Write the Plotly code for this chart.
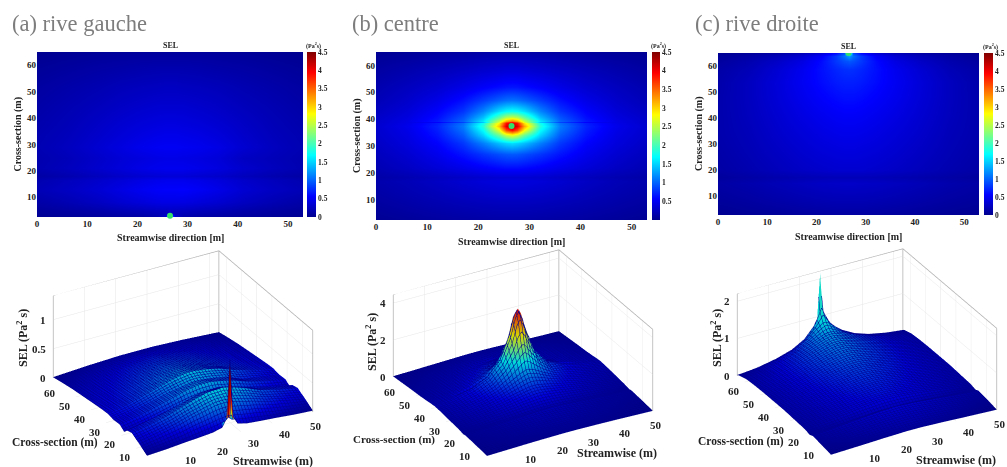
import numpy as np
import plotly.graph_objects as go

W, H = 1007, 467
X = [0, 6, 12, 17, 21, 24, 25.5, 26.5, 27.5, 29, 32, 36, 41, 47, 53]

Y_A = [3, 4, 4.6, 8, 13, 16.5, 18, 21, 25, 29, 33, 38, 45, 52, 59, 65]
Z_A = [
 [.03,.05,.08,.10,.12,.16,.30,1.30,.30,.16,.12,.10,.08,.05,.03],
 [.05,.08,.11,.15,.18,.21,.23,.28,.23,.21,.18,.15,.11,.08,.05],
 [.06,.09,.13,.18,.21,.24,.25,.26,.25,.24,.21,.18,.13,.09,.06],
 [.12,.18,.25,.33,.38,.42,.43,.43,.43,.42,.38,.33,.25,.18,.12],
 [.20,.26,.34,.43,.50,.54,.55,.55,.55,.56,.52,.45,.34,.26,.20],
 [.17,.23,.30,.37,.43,.47,.48,.48,.48,.48,.45,.39,.30,.23,.17],
 [.11,.16,.23,.29,.33,.35,.36,.36,.36,.36,.33,.30,.23,.16,.11],
 [.17,.23,.31,.38,.44,.47,.48,.48,.48,.48,.45,.40,.31,.23,.17],
 [.16,.21,.29,.36,.40,.43,.44,.44,.44,.43,.41,.37,.26,.21,.16],
 [.18,.24,.33,.41,.47,.50,.51,.51,.51,.50,.48,.43,.33,.24,.18],
 [.17,.22,.30,.37,.42,.45,.46,.46,.46,.45,.43,.38,.30,.22,.17],
 [.15,.20,.27,.33,.37,.39,.40,.40,.40,.39,.37,.33,.27,.20,.15],
 [.12,.17,.22,.27,.30,.32,.32,.32,.32,.32,.30,.27,.22,.17,.12],
 [.09,.13,.17,.21,.23,.24,.25,.25,.25,.24,.23,.21,.17,.13,.09],
 [.05,.08,.11,.13,.15,.16,.16,.16,.16,.16,.15,.13,.11,.08,.05],
 [.01,.03,.05,.06,.07,.07,.07,.07,.07,.07,.07,.06,.05,.03,.01],
]

Y_B = [3, 8, 13, 17, 18.5, 22, 27, 31, 34, 36, 37.5, 38.6, 39, 39.4, 41, 43, 47, 52, 58, 65]
Z_B = [
 [.03,.06,.09,.11,.12,.13,.13,.13,.13,.13,.12,.11,.09,.06,.03],
 [.08,.12,.16,.19,.21,.22,.22,.22,.22,.22,.21,.19,.16,.12,.08],
 [.12,.17,.22,.27,.30,.32,.32,.32,.32,.32,.30,.27,.22,.17,.12],
 [.15,.20,.27,.33,.37,.39,.40,.40,.40,.39,.37,.33,.27,.20,.15],
 [.12,.17,.23,.28,.32,.34,.34,.34,.34,.34,.32,.28,.23,.17,.12],
 [.18,.26,.36,.45,.53,.58,.60,.60,.60,.58,.53,.45,.36,.26,.18],
 [.23,.33,.47,.64,.79,.90,.94,.95,.94,.90,.79,.64,.47,.33,.23],
 [.27,.39,.56,.80,1.12,1.40,1.50,1.55,1.50,1.40,1.12,.80,.56,.39,.27],
 [.30,.42,.64,.96,1.50,2.15,2.55,2.70,2.55,2.15,1.50,.96,.64,.42,.30],
 [.31,.44,.68,1.05,1.70,2.70,3.60,3.90,3.60,2.80,1.70,1.05,.68,.44,.31],
 [.32,.46,.71,1.10,1.85,3.10,4.10,4.40,4.10,3.20,1.85,1.10,.71,.46,.32],
 [.31,.44,.68,1.05,1.75,2.90,3.90,4.15,3.90,2.95,1.75,1.05,.68,.44,.31],
 [.30,.43,.55,.85,1.45,2.70,3.60,3.90,3.60,2.70,1.45,.85,.55,.43,.30],
 [.30,.43,.66,1.00,1.60,2.55,3.20,3.40,3.20,2.55,1.60,1.00,.66,.43,.30],
 [.28,.40,.61,.92,1.40,2.10,2.45,2.55,2.45,2.10,1.40,.92,.61,.40,.28],
 [.25,.36,.55,.79,1.15,1.55,1.68,1.72,1.68,1.55,1.15,.79,.55,.36,.25],
 [.20,.30,.44,.62,.82,.98,1.04,1.06,1.04,.98,.82,.62,.44,.30,.20],
 [.16,.24,.33,.44,.54,.61,.64,.65,.64,.61,.54,.44,.33,.24,.16],
 [.10,.16,.22,.28,.33,.36,.38,.38,.38,.36,.33,.28,.22,.16,.10],
 [.03,.05,.08,.10,.12,.13,.13,.13,.13,.13,.12,.10,.08,.05,.03],
]

Y_C = [3, 9, 15, 17, 20, 27, 34, 41, 48, 54, 59, 62, 64, 65]
Z_C = [
 [.02,.04,.06,.08,.09,.10,.10,.10,.10,.10,.09,.08,.06,.04,.02],
 [.07,.10,.14,.17,.19,.20,.20,.20,.20,.20,.19,.17,.14,.10,.07],
 [.11,.15,.20,.24,.27,.28,.29,.29,.29,.28,.27,.24,.20,.15,.11],
 [.07,.11,.15,.18,.20,.21,.21,.21,.21,.21,.20,.18,.15,.11,.07],
 [.11,.16,.22,.27,.30,.32,.32,.32,.32,.32,.30,.27,.22,.16,.11],
 [.13,.19,.26,.32,.36,.38,.39,.39,.39,.38,.36,.32,.26,.19,.13],
 [.15,.21,.30,.37,.42,.45,.46,.46,.46,.45,.42,.37,.30,.21,.15],
 [.15,.23,.33,.42,.48,.52,.53,.53,.53,.52,.48,.42,.33,.23,.15],
 [.15,.24,.36,.47,.55,.60,.62,.62,.62,.60,.55,.47,.36,.24,.15],
 [.14,.24,.37,.50,.60,.67,.69,.69,.69,.67,.60,.50,.37,.24,.14],
 [.12,.20,.34,.48,.62,.72,.76,.77,.76,.72,.62,.48,.34,.20,.12],
 [.08,.16,.28,.42,.60,.80,.90,.94,.90,.80,.60,.42,.28,.16,.08],
 [.05,.11,.21,.34,.53,.81,1.05,1.25,1.05,.81,.53,.34,.21,.11,.05],
 [.02,.06,.12,.22,.36,.60,.90,2.15,.90,.60,.36,.22,.12,.06,.02],
]

SOURCES = [(26.5, 3), (26.5, 37.5), (26.5, 65)]
PANEL_TITLES = ["(a) rive gauche", "(b) centre", "(c) rive droite"]
CB_TICKS = [0, .5, 1, 1.5, 2, 2.5, 3, 3.5, 4, 4.5]
CB_LABELS = ["0", "0.5", "1", "1.5", "2", "2.5", "3", "3.5", "4", "4.5"]
XT = [0, 10, 20, 30, 40, 50]
XT3 = [10, 20, 30, 40, 50]
YT = [10, 20, 30, 40, 50, 60]
ZT = [[0, .5, 1], [0, 2, 4], [0, 1, 2]]
ZMAX = [1.41, 4.45, 2.2]
CMAX = [1.5, 5.0, 2.5]
COLOR_CAP = [1.5, 4.4, 1.0]

JET = [[0, "#00008f"], [.125, "#0000ff"], [.375, "#00ffff"], [.625, "#ffff00"], [.875, "#ff0000"], [1, "#800000"]]
SERIF = "Liberation Serif"
BOLD = dict(family=SERIF, size=9, color="#222", weight="bold")

# pixel boxes: left, right, top, bottom
HM = [(37, 303, 52, 217), (376, 647, 52, 220), (718, 979, 53, 215)]
CB = [(307, 9), (652, 8), (984, 9)]
S_CENTER = [(183, 354), (523, 353), (867, 352)]
S_HALF = [(170, 112), (165, 112), (137, 112)]
fx = lambda p: p / W
fy = lambda p: 1 - p / H


def note(text, px, py, size, **kw):
    kw.setdefault("xanchor", "center")
    return dict(text=text, x=fx(px), y=fy(py), xref="paper", yref="paper", showarrow=False, yanchor="middle",
                font=kw.pop("font", dict(family=SERIF, size=size, color="#222")), **kw)


def tick3(x, y, z, text, dx, dy, anchor="center"):
    return dict(x=x, y=y, z=z, text=text, showarrow=False, xshift=dx, yshift=dy, xanchor=anchor, yanchor="middle",
                font=dict(family=SERIF, size=11, color="#222", weight="bold"))


fig = go.Figure()
annos = []
layout = dict(width=W, height=H, margin=dict(l=0, r=0, t=0, b=0), paper_bgcolor="white",
              plot_bgcolor="white", showlegend=False, font=dict(family=SERIF))
Ys = [Y_A, Y_B, Y_C]
Zs = [Z_A, Z_B, Z_C]
EYE = dict(x=-0.432, y=-0.763, z=0.48)
AS = 1.7

for i in range(3):
    n = "" if i == 0 else str(i + 1)
    l, r, t, b = HM[i]
    z = np.array(Zs[i])
    fig.add_trace(go.Heatmap(x=X, y=Ys[i], z=z, zmin=0, zmax=4.5, zsmooth="best", colorscale=JET,
                             xaxis="x" + n, yaxis="y" + n, hoverinfo="skip",
                             colorbar=dict(x=fx(CB[i][0]), xanchor="left", xpad=0, ypad=0, y=fy(b), yanchor="bottom",
                                           len=(b - t) / H, thickness=CB[i][1], outlinewidth=0, ticks="",
                                           tickvals=CB_TICKS[0 if i != 1 else 1:], ticktext=CB_LABELS[0 if i != 1 else 1:],
                                           tickfont=dict(family=SERIF, size=7.5, color="#222", weight="bold"))))
    fig.add_trace(go.Scatter(x=[SOURCES[i][0]], y=[SOURCES[i][1]], mode="markers", xaxis="x" + n, yaxis="y" + n,
                             marker=dict(color="#35e06a", size=6), hoverinfo="skip", cliponaxis=i == 2))
    layout["xaxis" + n] = dict(domain=[fx(l), fx(r)], range=[0, 53], anchor="y" + n, tickvals=XT, ticks="",
                               showgrid=False, zeroline=False, tickfont=BOLD, automargin=False)
    layout["yaxis" + n] = dict(domain=[fy(b), fy(t)], range=[2.5, 65], anchor="x" + n, tickvals=YT, ticks="",
                               showgrid=False, zeroline=False, tickfont=BOLD, automargin=False)
    annos += [
        note("<b>SEL</b>", (l + r) / 2, t - 6, 8),
        note("<b>(Pa<sup>2</sup>s)</b>", CB[i][0] + 6, t - 6, 6),
        note("<b>Streamwise direction [m]</b>", (l + r) / 2, b + 21, 10),
        note("<b>Cross-section (m)</b>", l - 19, (t + b) / 2, 10, textangle=-90),
    ]

    # 3D panel
    cx, cy = S_CENTER[i]
    hx, hy = S_HALF[i]
    sn = "scene" + n
    colors = np.minimum(z, COLOR_CAP[i])
    if i == 0:
        colors[0, 6:9] = COLOR_CAP[i]
        colors[1, 7] = COLOR_CAP[i]
    fig.add_trace(go.Surface(x=X, y=Ys[i], z=z, surfacecolor=colors, cmin=0, cmax=CMAX[i],
                             colorscale=JET, showscale=False, scene=sn, hoverinfo="skip",
                             lighting=dict(ambient=.85, diffuse=.35, specular=.05, roughness=.9),
                             lightposition=dict(x=-100, y=-500, z=1000),
                             contours=dict(x=dict(show=True, start=0, end=53, size=1, color="#00008f", width=1),
                                           y=dict(show=True, start=3, end=65, size=1, color="#00008f", width=1))))
    zm = ZMAX[i]
    fig.add_trace(go.Scatter3d(x=[0, 0, 53, 53, 53, 53, 53],
                               y=[65, 65, 65, 65, 65, 3, 3],
                               z=[0, zm, zm, 0, zm, zm, 0],
                               mode="lines", line=dict(color="#b0b0b0", width=1.5), scene=sn, hoverinfo="skip"))
    ax = dict(showbackground=True, backgroundcolor="white", gridcolor="#e6e6e6", gridwidth=1, zeroline=False,
              showspikes=False, title=dict(text=""), showticklabels=False, ticks="", showline=False)
    labels = ([tick3(v, 3, 0, str(v), 13, -11) for v in XT3] +
              [tick3(0, v, 0, str(v), -11, -9) for v in YT] +
              [tick3(0, 65, v, str(v), -5, 0, "right") for v in ZT[i]])
    layout[sn] = dict(domain=dict(x=[fx(cx - hx), fx(cx + hx)], y=[fy(cy + hy), fy(cy - hy)]),
                      xaxis=dict(ax, range=[0, 53], tickvals=XT3),
                      yaxis=dict(ax, range=[3, 65], tickvals=YT),
                      zaxis=dict(ax, range=[0, zm], tickvals=ZT[i]),
                      annotations=labels,
                      aspectmode="manual", aspectratio=dict(x=AS, y=AS, z=.49 * AS),
                      camera=dict(projection=dict(type="orthographic"), eye=EYE, up=dict(x=0, y=0, z=1)))

for i, (xs, ys) in enumerate([(10, 23), (350, 23), (693, 23)]):
    annos.append(note(PANEL_TITLES[i], xs, ys, 22, xanchor="left", font=dict(family=SERIF, size=22.5, color="#7d7d7d")))
annos += [
    note("<b>Cross-section (m)</b>", 55, 442, 11.5),
    note("<b>Streamwise (m)</b>", 273, 461, 12),
    note("<b>SEL (Pa<sup>2</sup> s)</b>", 22, 338, 12, textangle=-90),
    note("<b>Cross-section (m)</b>", 394, 439, 11),
    note("<b>Streamwise (m)</b>", 617, 453, 12),
    note("<b>SEL (Pa<sup>2</sup> s)</b>", 371, 342, 12, textangle=-90),
    note("<b>Cross-section (m)</b>", 741, 441, 11.5),
    note("<b>Streamwise (m)</b>", 956, 460, 12),
    note("<b>SEL (Pa<sup>2</sup> s)</b>", 716, 338, 12, textangle=-90),
]
layout["annotations"] = annos
fig.update_layout(**layout)
fig.write_html("out.html", config=dict(displayModeBar=False),
               post_script="document.body.style.margin='0';document.body.style.overflow='hidden';")
